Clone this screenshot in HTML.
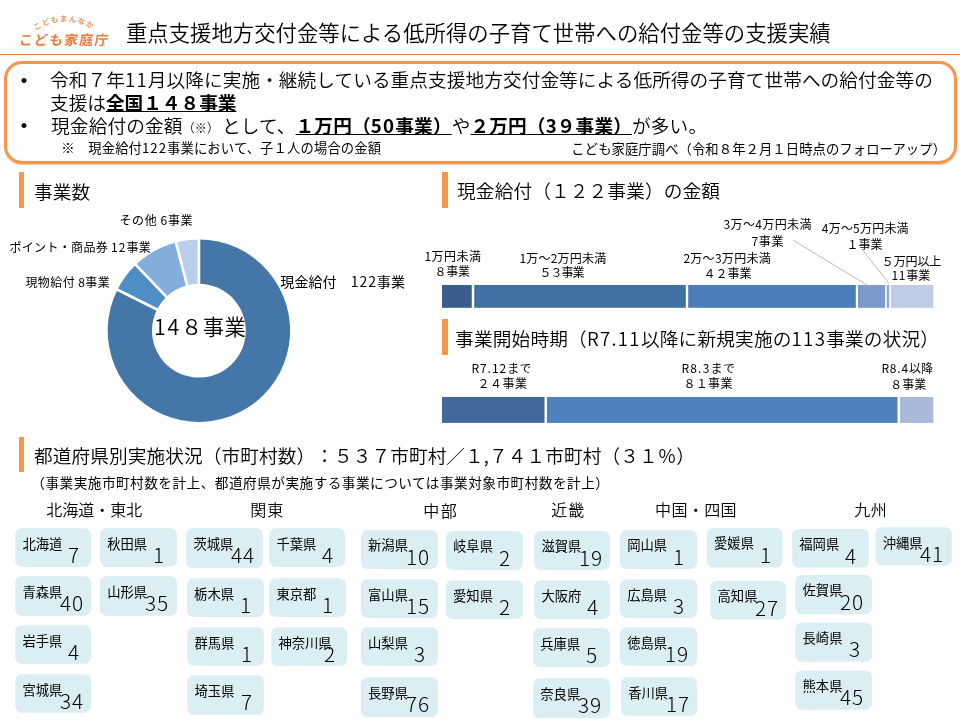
<!DOCTYPE html>
<html lang="ja"><head><meta charset="utf-8"><title>重点支援地方交付金等による低所得の子育て世帯への給付金等の支援実績</title>
<style>
html,body{margin:0;padding:0;background:#fff}
body{text-spacing-trim:space-all;width:960px;height:720px;position:relative;overflow:hidden;font-family:'Noto Sans CJK JP','Liberation Sans',sans-serif;font-weight:350}
#slide{position:absolute;left:0;top:0;width:960px;height:720px;will-change:transform}
.t{position:absolute;white-space:nowrap;line-height:1;letter-spacing:var(--ls,0px)}
.d{letter-spacing:calc(var(--ls,0px) + .06em)}
b .d{letter-spacing:calc(var(--ls,0px) + .06em)}
.s{font-size:12px}
.r{position:absolute}
b{font-weight:700;text-decoration:underline;text-underline-offset:1.2px;text-decoration-thickness:1.3px}
.card{position:absolute;width:76px;height:39px}
.card span{position:absolute;white-space:nowrap;line-height:1}
.n{left:7.2px;top:8.4px;font-size:13.33px;font-weight:400}
.v{top:16.8px;font-size:20px;font-weight:300;letter-spacing:.9px;transform:scaleX(1.04);transform-origin:0 0}
.v1{left:53.3px}
.v2{left:44.9px}
</style></head><body><div id="slide">
<svg class="r" style="left:0;top:0" width="130" height="54" viewBox="0 0 130 54">
<defs><path id="arc" d="M35.6,30.6 A52,52 0 0 1 94.4,30.6"/></defs>
<text font-family="'Noto Sans CJK JP','Liberation Sans',sans-serif" font-size="7.7" font-weight="700" fill="#F0935C" letter-spacing="0.95"><textPath href="#arc">こどもまんなか</textPath></text>
<text x="18.5" y="45.3" transform="skewX(-7)" transform-origin="20 45" font-family="'Noto Sans CJK JP','Liberation Sans',sans-serif" font-size="13.7" font-weight="700" fill="#ED7B3C" letter-spacing="1.4">こども家庭庁</text>
</svg>
<div class="t" id="title" style="left:125.93px;top:20.57px;font-size:21.33px;--ls:0.047px;">重点支援地方交付金等による低所得の子育て世帯への給付金等の支援実績</div>
<div class="r" style="left:0.00px;top:53.50px;width:960.00px;height:1.50px;background:#E9783C;"></div>
<div class="r" style="left:4.2px;top:61px;width:946.8px;height:97px;border:3px solid #F79646;border-radius:18px;box-shadow:0 .5px 1px rgba(120,70,20,.28)"></div>
<div class="t" id="bu1" style="left:20.67px;top:71.63px;font-size:18.67px;font-family:'Liberation Sans',sans-serif;">•</div>
<div class="t" id="bu2" style="left:20.67px;top:116.63px;font-size:18.67px;font-family:'Liberation Sans',sans-serif;">•</div>
<div class="t" id="b1" style="left:50.07px;top:69.63px;font-size:18.67px;--ls:0.064px;">令和７年<span class="d">11</span>月以降に実施・継続している重点支援地方交付金等による低所得の子育て世帯への給付金等の</div>
<div class="t" id="b2" style="left:50.07px;top:92.63px;font-size:18.67px;--ls:-0.022px;">支援は<b>全国１４８事業</b></div>
<div class="t" id="b3" style="left:51.07px;top:115.63px;font-size:18.67px;--ls:0.139px;">現金給付の金額<span class="s">（※） </span>として、<b>１万円（<span class="d">50</span>事業）</b>や<b>２万円（3９事業）</b>が多い。</div>
<div class="t" id="n1" style="left:61.33px;top:140.53px;font-size:13.33px;font-weight:400;--ls:0.125px;">※　現金給付<span class="d">122</span>事業において、子１人の場合の金額</div>
<div class="t" id="n2" style="left:571.33px;top:141.73px;font-size:13.33px;font-weight:400;--ls:0.074px;">こども家庭庁調べ（令和８年２月１日時点のフォローアップ）</div>
<div class="r" style="left:19.00px;top:172.25px;width:5.00px;height:35.50px;background:#F79646;"></div>
<div class="t" id="s1" style="left:34.07px;top:182.13px;font-size:18.67px;">事業数</div>
<div class="r" style="left:442.00px;top:172.00px;width:6.00px;height:35.50px;background:#F79646;"></div>
<div class="t" id="s2" style="left:457.07px;top:180.63px;font-size:18.67px;--ls:0.131px;">現金給付（１２２事業）の金額</div>
<div class="r" style="left:442.00px;top:318.75px;width:6.00px;height:35.75px;background:#F79646;"></div>
<div class="t" id="s3" style="left:455.07px;top:328.63px;font-size:18.67px;--ls:0.179px;">事業開始時期（<span class="d">R7.11</span>以降に新規実施の<span class="d">113</span>事業の状況）</div>
<div class="r" style="left:19.00px;top:437.00px;width:5.00px;height:34.50px;background:#F79646;"></div>
<div class="t" id="s4" style="left:34.07px;top:445.63px;font-size:18.67px;--ls:0.085px;">都道府県別実施状況（市町村数）：５３７市町村／１,７４１市町村（３１％）</div>
<svg class="r" style="left:0;top:220px" width="440" height="210" viewBox="0 220 440 210"><path d="M198.90,239.50 A91.2,91.2 0 1 1 117.47,289.64 L157.02,309.59 A46.9,46.9 0 1 0 198.90,283.80 Z" fill="#4477A8"/><path d="M117.47,289.64 A91.2,91.2 0 0 1 135.80,264.86 L166.45,296.84 A46.9,46.9 0 0 0 157.02,309.59 Z" fill="#4F8DC6"/><path d="M135.80,264.86 A91.2,91.2 0 0 1 175.92,242.44 L187.08,285.31 A46.9,46.9 0 0 0 166.45,296.84 Z" fill="#83ADDB"/><path d="M175.92,242.44 A91.2,91.2 0 0 1 198.90,239.50 L198.90,283.80 A46.9,46.9 0 0 0 187.08,285.31 Z" fill="#B8CEEA"/><path d="M198.90,238.50 L198.90,284.80 M116.57,289.19 L157.91,310.04 M135.10,264.14 L167.14,297.56 M175.67,241.48 L187.33,286.28" stroke="#fff" stroke-width="2.7" fill="none"/></svg>
<div class="t" id="dc" style="left:153.93px;top:314.57px;font-size:21.33px;--ls:0.500px;"><span class="d">14</span>８事業</div>
<div class="t" id="d1" style="left:119.40px;top:213.76px;font-size:12px;font-weight:400;--ls:0.628px;">その他 6事業</div>
<div class="t" id="d2" style="left:9.40px;top:240.76px;font-size:12px;font-weight:400;--ls:0.333px;">ポイント・商品券 <span class="d">12</span>事業</div>
<div class="t" id="d3" style="left:25.40px;top:275.76px;font-size:12px;font-weight:400;--ls:0.429px;">現物給付 8事業</div>
<div class="t" id="d4" style="left:280.30px;top:273.72px;font-size:14px;font-weight:400;--ls:0.087px;">現金給付　<span class="d">122</span>事業</div>
<svg class="r" style="left:440px;top:280px" width="500" height="150" viewBox="440 280 500 150"><rect x="442.00" y="285" width="29.75" height="22.8" fill="#3A5F8F"/><rect x="474.25" y="285" width="211.55" height="22.8" fill="#4270A5"/><rect x="688.20" y="285" width="167.60" height="22.8" fill="#4A7DB9"/><rect x="858.00" y="285" width="27.00" height="22.8" fill="#7A9ACB"/><rect x="886.70" y="285" width="2.50" height="22.8" fill="#8FA9D4"/><rect x="890.80" y="285" width="42.50" height="22.8" fill="#C0CCE3"/><rect x="442.00" y="397" width="102.50" height="25.9" fill="#41699B"/><rect x="547.00" y="397" width="350.50" height="25.9" fill="#4E81BD"/><rect x="900.00" y="397" width="33.30" height="25.9" fill="#A8B9D9"/></svg>
<div class="t" id="l1a" style="left:424.40px;top:249.96px;font-size:12px;font-weight:400;--ls:0.500px;">1万円未満</div>
<div class="t" id="l1b" style="left:434.40px;top:265.36px;font-size:12px;font-weight:400;--ls:-0.250px;">８事業</div>
<div class="t" id="l2a" style="left:519.40px;top:251.96px;font-size:12px;font-weight:400;--ls:0.214px;">1万～2万円未満</div>
<div class="t" id="l2b" style="left:539.40px;top:266.36px;font-size:12px;font-weight:400;--ls:-1.000px;">５３事業</div>
<div class="t" id="l3a" style="left:683.40px;top:251.96px;font-size:12px;font-weight:400;--ls:0.286px;">2万～3万円未満</div>
<div class="t" id="l3b" style="left:703.40px;top:267.16px;font-size:12px;font-weight:400;">４２事業</div>
<div class="t" id="l4a" style="left:723.60px;top:218.36px;font-size:12px;font-weight:400;--ls:0.359px;">3万～4万円未満</div>
<div class="t" id="l4b" style="left:751.40px;top:235.36px;font-size:12px;font-weight:400;--ls:0.750px;">7事業</div>
<div class="t" id="l5a" style="left:821.80px;top:221.76px;font-size:12px;font-weight:400;--ls:0.214px;">4万～5万円未満</div>
<div class="t" id="l5b" style="left:846.60px;top:237.96px;font-size:12px;font-weight:400;">１事業</div>
<div class="t" id="l6a" style="left:881.80px;top:254.76px;font-size:12px;font-weight:400;--ls:-0.125px;">５万円以上</div>
<div class="t" id="l6b" style="left:891.40px;top:269.36px;font-size:12px;font-weight:400;"><span class="d">11</span>事業</div>
<div class="t" id="m1a" style="left:471.40px;top:361.96px;font-size:12px;font-weight:400;--ls:0.250px;"><span class="d">R7.12</span>まで</div>
<div class="t" id="m1b" style="left:477.40px;top:377.36px;font-size:12px;font-weight:400;--ls:0.502px;">２４事業</div>
<div class="t" id="m2a" style="left:681.40px;top:361.96px;font-size:12px;font-weight:400;--ls:0.500px;"><span class="d">R8.3</span>まで</div>
<div class="t" id="m2b" style="left:683.40px;top:377.36px;font-size:12px;font-weight:400;--ls:0.331px;">８１事業</div>
<div class="t" id="m3a" style="left:881.40px;top:361.96px;font-size:12px;font-weight:400;--ls:0.100px;"><span class="d">R8.4</span>以降</div>
<div class="t" id="m3b" style="left:890.20px;top:378.36px;font-size:12px;font-weight:400;">８事業</div>
<svg class="r" style="left:780px;top:230px" width="130" height="70" viewBox="780 230 130 70"><path d="M793.4,240.3 L871,287.5 M863,250.6 L889,283.4" stroke="#A6A6A6" stroke-width="0.8" fill="none"/></svg>
<div class="t" id="note" style="left:31.32px;top:475.73px;font-size:13.65px;font-weight:400;--ls:0.475px;">（事業実施市町村数を計上、都道府県が実施する事業については事業対象市町村数を計上）</div>
<div class="t" id="r1" style="left:46.20px;top:500.68px;font-size:16px;">北海道・東北</div>
<div class="t" id="r2" style="left:250.20px;top:500.68px;font-size:16px;--ls:1.000px;">関東</div>
<div class="t" id="r3" style="left:423.20px;top:502.08px;font-size:16px;--ls:1.500px;">中部</div>
<div class="t" id="r4" style="left:551.20px;top:501.48px;font-size:16px;--ls:1.000px;">近畿</div>
<div class="t" id="r5" style="left:655.00px;top:501.48px;font-size:16px;--ls:0.375px;">中国・四国</div>
<div class="t" id="r6" style="left:854.20px;top:501.48px;font-size:16px;--ls:0.500px;">九州</div>
<svg class="r" style="left:0;top:520px" width="960" height="200" viewBox="0 520 960 200" fill="#DBEEF4"><rect x="15.2" y="528.3" width="75.8" height="38.6" rx="6.5"/><rect x="100.0" y="528.3" width="77.1" height="38.6" rx="6.5"/><rect x="15.2" y="576.2" width="75.8" height="39.5" rx="6.5"/><rect x="100.0" y="576.2" width="77.1" height="39.5" rx="6.5"/><rect x="15.2" y="625.2" width="75.8" height="38.5" rx="6.5"/><rect x="15.2" y="674.2" width="75.8" height="38.5" rx="6.5"/><rect x="186.2" y="528.3" width="76.7" height="39.6" rx="6.5"/><rect x="269.2" y="528.3" width="75.8" height="38.6" rx="6.5"/><rect x="186.9" y="578.3" width="76.9" height="38.6" rx="6.5"/><rect x="269.2" y="578.3" width="76.8" height="38.6" rx="6.5"/><rect x="187.3" y="627.3" width="76.5" height="38.5" rx="6.5"/><rect x="271.2" y="627.3" width="75.8" height="38.5" rx="6.5"/><rect x="187.3" y="675.2" width="76.5" height="39.6" rx="6.5"/><rect x="360.8" y="530.0" width="77.1" height="39.0" rx="6.5"/><rect x="445.8" y="531.0" width="77.1" height="39.0" rx="6.5"/><rect x="360.8" y="579.4" width="77.1" height="38.5" rx="6.5"/><rect x="445.8" y="580.4" width="77.1" height="38.6" rx="6.5"/><rect x="360.8" y="627.3" width="77.1" height="38.5" rx="6.5"/><rect x="360.8" y="677.3" width="77.1" height="39.6" rx="6.5"/><rect x="534.2" y="531.0" width="75.8" height="39.0" rx="6.5"/><rect x="534.2" y="580.4" width="75.8" height="38.6" rx="6.5"/><rect x="533.1" y="628.3" width="76.9" height="38.6" rx="6.5"/><rect x="533.1" y="678.3" width="76.9" height="39.6" rx="6.5"/><rect x="620.0" y="530.0" width="77.1" height="39.0" rx="6.5"/><rect x="620.0" y="579.4" width="77.1" height="38.5" rx="6.5"/><rect x="620.0" y="627.3" width="77.1" height="38.5" rx="6.5"/><rect x="621.0" y="677.3" width="76.1" height="38.5" rx="6.5"/><rect x="706.8" y="528.1" width="75.8" height="39.5" rx="6.5"/><rect x="710.3" y="580.9" width="75.6" height="38.6" rx="6.5"/><rect x="792.1" y="528.9" width="76.6" height="38.7" rx="6.5"/><rect x="875.5" y="527.3" width="76.4" height="38.2" rx="6.5"/><rect x="795.3" y="575.0" width="76.7" height="39.3" rx="6.5"/><rect x="795.3" y="622.5" width="76.7" height="39.3" rx="6.5"/><rect x="795.3" y="670.4" width="76.7" height="39.3" rx="6.5"/></svg>
<div class="card" style="left:15.2px;top:528.3px"><span class="n">北海道</span><span class="v v1">7</span></div>
<div class="card" style="left:100.0px;top:528.3px"><span class="n">秋田県</span><span class="v v1">1</span></div>
<div class="card" style="left:15.2px;top:576.2px"><span class="n">青森県</span><span class="v v2">40</span></div>
<div class="card" style="left:100.0px;top:576.2px"><span class="n">山形県</span><span class="v v2">35</span></div>
<div class="card" style="left:15.2px;top:625.2px"><span class="n">岩手県</span><span class="v v1">4</span></div>
<div class="card" style="left:15.2px;top:674.2px"><span class="n">宮城県</span><span class="v v2">34</span></div>
<div class="card" style="left:186.2px;top:528.3px"><span class="n">茨城県</span><span class="v v2">44</span></div>
<div class="card" style="left:269.2px;top:528.3px"><span class="n">千葉県</span><span class="v v1">4</span></div>
<div class="card" style="left:186.9px;top:578.3px"><span class="n">栃木県</span><span class="v v1">1</span></div>
<div class="card" style="left:269.2px;top:578.3px"><span class="n">東京都</span><span class="v v1">1</span></div>
<div class="card" style="left:187.3px;top:627.3px"><span class="n">群馬県</span><span class="v v1">1</span></div>
<div class="card" style="left:271.2px;top:627.3px"><span class="n">神奈川県</span><span class="v v1">2</span></div>
<div class="card" style="left:187.3px;top:675.2px"><span class="n">埼玉県</span><span class="v v1">7</span></div>
<div class="card" style="left:360.8px;top:530.0px"><span class="n">新潟県</span><span class="v v2">10</span></div>
<div class="card" style="left:445.8px;top:531.0px"><span class="n">岐阜県</span><span class="v v1">2</span></div>
<div class="card" style="left:360.8px;top:579.4px"><span class="n">富山県</span><span class="v v2">15</span></div>
<div class="card" style="left:445.8px;top:580.4px"><span class="n">愛知県</span><span class="v v1">2</span></div>
<div class="card" style="left:360.8px;top:627.3px"><span class="n">山梨県</span><span class="v v1">3</span></div>
<div class="card" style="left:360.8px;top:677.3px"><span class="n">長野県</span><span class="v v2">76</span></div>
<div class="card" style="left:534.2px;top:531.0px"><span class="n">滋賀県</span><span class="v v2">19</span></div>
<div class="card" style="left:534.2px;top:580.4px"><span class="n">大阪府</span><span class="v v1">4</span></div>
<div class="card" style="left:533.1px;top:628.3px"><span class="n">兵庫県</span><span class="v v1">5</span></div>
<div class="card" style="left:533.1px;top:678.3px"><span class="n">奈良県</span><span class="v v2">39</span></div>
<div class="card" style="left:620.0px;top:530.0px"><span class="n">岡山県</span><span class="v v1">1</span></div>
<div class="card" style="left:620.0px;top:579.4px"><span class="n">広島県</span><span class="v v1">3</span></div>
<div class="card" style="left:620.0px;top:627.3px"><span class="n">徳島県</span><span class="v v2">19</span></div>
<div class="card" style="left:621.0px;top:677.3px"><span class="n">香川県</span><span class="v v2">17</span></div>
<div class="card" style="left:706.8px;top:528.1px"><span class="n">愛媛県</span><span class="v v1">1</span></div>
<div class="card" style="left:710.3px;top:580.9px"><span class="n">高知県</span><span class="v v2">27</span></div>
<div class="card" style="left:792.1px;top:528.9px"><span class="n">福岡県</span><span class="v v1">4</span></div>
<div class="card" style="left:875.5px;top:527.3px"><span class="n">沖縄県</span><span class="v v2">41</span></div>
<div class="card" style="left:795.3px;top:575.0px"><span class="n">佐賀県</span><span class="v v2">20</span></div>
<div class="card" style="left:795.3px;top:622.5px"><span class="n">長崎県</span><span class="v v1">3</span></div>
<div class="card" style="left:795.3px;top:670.4px"><span class="n">熊本県</span><span class="v v2">45</span></div>
</div></body></html>
